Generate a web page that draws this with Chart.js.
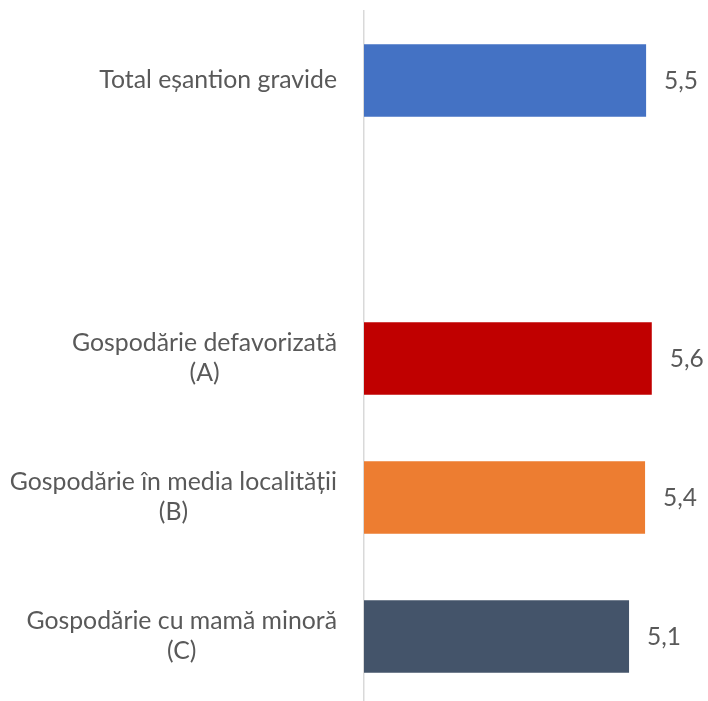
<!DOCTYPE html>
<html>
<head>
<meta charset="utf-8">
<script src="https://cdn.jsdelivr.net/npm/chart.js@4.4.1/dist/chart.umd.min.js"></script>
<style>
  html, body { margin: 0; padding: 0; background: #fff; overflow: hidden; }
  #wrap { width: 708px; height: 706px; }
</style>
</head>
<body>
<div id="wrap"><canvas id="myChart"></canvas></div>
<script>
// categories (empty slot between total and the groups)
var categories = [
    ['Total eșantion gravide'],
    [''],
    ['Gospodărie defavorizată', '(A)'],
    ['Gospodărie în media localității', '(B)'],
    ['Gospodărie cu mamă minoră', '(C)']
];
var values = [5.46, null, 5.57, 5.44, 5.13];
var barColors = ['#4472C4', '#ffffff', '#C00000', '#ED7D31', '#44546A'];

var labelFont = '24.8px Lato';
var valueFont = '24.5px Lato';
var textColor = '#595959';

var drawLabels = {
    id: 'drawLabels',
    afterDraw: function (chart) {
        var ctx = chart.ctx;
        var yScale = chart.scales.y;
        ctx.save();
        ctx.font = labelFont;
        ctx.fillStyle = textColor;
        ctx.textAlign = 'center';
        ctx.textBaseline = 'middle';
        var lineH = 30;
        var rightX = 337;
        categories.forEach(function (lines, i) {
            var yc = yScale.getPixelForValue(i);
            var maxW = 0;
            lines.forEach(function (l) { maxW = Math.max(maxW, ctx.measureText(l).width); });
            var cx = rightX - maxW / 2;
            var top = yc - (lines.length - 1) * lineH / 2;
            lines.forEach(function (l, j) {
                ctx.fillText(l, cx, top + j * lineH);
            });
        });
        // value labels
        ctx.font = valueFont;
        ctx.textAlign = 'left';
        var meta = chart.getDatasetMeta(0);
        meta.data.forEach(function (bar, i) {
            if (values[i] === null) return;
            ctx.fillText(values[i].toFixed(1).replace('.', ','), bar.x + 18, bar.y + 1);
        });
        ctx.restore();
    }
};

new Chart('myChart', {
    type: 'bar',
    data: {
        labels: categories.map(function (c) { return c.join(' '); }),
        datasets: [{
            data: values,
            backgroundColor: barColors,
            barPercentage: 0.52,
            categoryPercentage: 1
        }]
    },
    options: {
        indexAxis: 'y',
        responsive: true,
        maintainAspectRatio: false,
        animation: false,
        layout: { padding: { top: 11, right: 34, bottom: 0, left: 0 } },
        plugins: {
            legend: { display: false },
            tooltip: { enabled: false }
        },
        scales: {
            x: {
                display: false,
                min: 0,
                max: 6
            },
            y: {
                ticks: { display: false },
                grid: { display: false },
                border: { display: true, color: '#d9d9d9', width: 1.5 },
                afterFit: function (scale) { scale.width = 364; }
            }
        }
    },
    plugins: [drawLabels]
});
</script>
</body>
</html>
